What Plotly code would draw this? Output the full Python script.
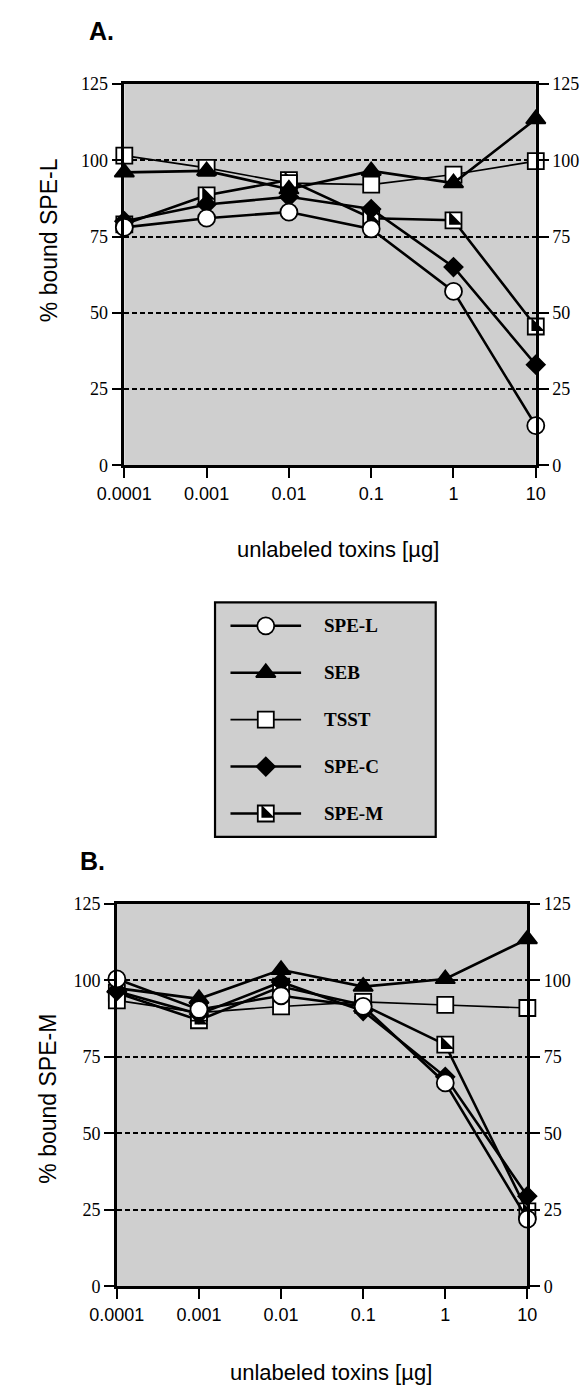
import plotly.graph_objects as go

# ---------------- data ----------------
doses = [0.0001, 0.001, 0.01, 0.1, 1, 10]
dose_labels = ["0.0001", "0.001", "0.01", "0.1", "1", "10"]
y_ticks = [0, 25, 50, 75, 100, 125]
series_names = ["SPE-L", "SEB", "TSST", "SPE-C", "SPE-M"]

# Panel A: % bound SPE-L
a_spe_l = [78, 81, 83, 77.5, 57, 13]
a_seb = [96, 96.5, 90.5, 96.5, 92.5, 113.5]
a_tsst = [101.5, 97.5, 92.5, 92, 95.3, 99.7]
a_spe_c = [80, 85.5, 88, 84, 65, 33]
a_spe_m = [79, 88.5, 93.5, 81, 80.3, 45.5]

# Panel B: % bound SPE-M
b_spe_l = [100.5, 90.5, 95, 91.5, 66.5, 22]
b_seb = [97.5, 94, 103.5, 98, 100.5, 113.5]
b_tsst = [93.5, 89.5, 91.5, 93, 92, 91]
b_spe_c = [96.5, 89, 99.5, 90, 68.5, 29.5]
b_spe_m = [96, 87, 98, 92, 79, 24.5]

# ---------------- layout constants ----------------
W, H = 586, 1392
SERIF = "Liberation Serif, Times New Roman, serif"
SANS = "Liberation Sans, Arial, sans-serif"
BG = "#cfcfcf"

def px_x(p):
    return p / W

def px_y(p):
    return 1 - p / H

styles = {
    "SPE-L": dict(symbol="circle", size=17, color="white", lw=2.6),
    "SEB": dict(symbol="triangle-up", size=17, color="black", lw=2.6),
    "TSST": dict(symbol="square", size=16, color="white", lw=1.6),
    "SPE-C": dict(symbol="diamond", size=14, color="black", lw=2.6),
    "SPE-M": dict(symbol="square", size=16, color="white", lw=2.6),
}

fig = go.Figure()


def add_series(name, xs, ys, xa, ya):
    st = styles[name]
    fig.add_trace(go.Scatter(
        x=xs, y=ys, xaxis=xa, yaxis=ya, mode="lines+markers", name=name,
        line=dict(color="black", width=st["lw"]),
        marker=dict(symbol=st["symbol"], size=st["size"], color=st["color"],
                    line=dict(color="black", width=1.8)),
        cliponaxis=False, showlegend=False, hoverinfo="skip"))
    if name == "SPE-M":
        fig.add_trace(go.Scatter(
            x=xs, y=ys, xaxis=xa, yaxis=ya, mode="markers", name=name,
            marker=dict(symbol="triangle-sw", size=st["size"] / 1.1, color="black",
                        line=dict(width=0)),
            cliponaxis=False, showlegend=False, hoverinfo="skip"))


panels = [
    dict(data={"SPE-L": a_spe_l, "SEB": a_seb, "TSST": a_tsst, "SPE-C": a_spe_c, "SPE-M": a_spe_m},
         xa="x", ya="y", ya2="y2"),
    dict(data={"SPE-L": b_spe_l, "SEB": b_seb, "TSST": b_tsst, "SPE-C": b_spe_c, "SPE-M": b_spe_m},
         xa="x2", ya="y3", ya2="y4"),
]
draw_order = ["SPE-M", "TSST", "SEB", "SPE-C"]
for p in panels:
    for n in draw_order:
        add_series(n, doses, p["data"][n], p["xa"], p["ya"])
    add_series("SPE-L", doses, p["data"]["SPE-L"], p["xa"], p["ya2"])

# ---------------- legend (own axes) ----------------
leg_x0, leg_x1, leg_y0, leg_y1 = 200, 436, 601, 839
line_x = [0.07, 0.39]
mark_x = 0.23
text_x = 0.485
for i, n in enumerate(series_names):
    st = styles[n]
    row = i + 0.5
    fig.add_trace(go.Scatter(x=line_x, y=[row, row], xaxis="x3", yaxis="y5", mode="lines",
                             line=dict(color="black", width=st["lw"]), showlegend=False,
                             hoverinfo="skip"))
    fig.add_trace(go.Scatter(x=[mark_x], y=[row], xaxis="x3", yaxis="y5", mode="markers",
                             marker=dict(symbol=st["symbol"], size=st["size"], color=st["color"],
                                         line=dict(color="black", width=1.8)),
                             showlegend=False, hoverinfo="skip", cliponaxis=False))
    if n == "SPE-M":
        fig.add_trace(go.Scatter(x=[mark_x], y=[row], xaxis="x3", yaxis="y5", mode="markers",
                                 marker=dict(symbol="triangle-sw", size=st["size"] / 1.1,
                                             color="black", line=dict(width=0)),
                                 showlegend=False, hoverinfo="skip", cliponaxis=False))

# ---------------- axes ----------------
def xaxis_cfg(x0, x1, anchor):
    return dict(domain=[px_x(x0), px_x(x1)], type="log", range=[-4, 1], anchor=anchor,
                tickmode="array", tickvals=doses, ticktext=dose_labels,
                ticks="outside", ticklen=10, tickwidth=2.2, tickcolor="black",
                showline=True, linewidth=2.5, linecolor="black", mirror=True,
                showgrid=False, zeroline=False,
                tickfont=dict(family=SANS, size=18, color="black"))


def yaxis_cfg(y0, y1, anchor, grid=True):
    return dict(domain=[px_y(y1), px_y(y0)], range=[0, 125], anchor=anchor,
                tickmode="array", tickvals=y_ticks,
                ticks="outside", ticklen=10, tickwidth=2.2, tickcolor="black",
                showline=True, linewidth=2.5, linecolor="black",
                showgrid=grid, gridcolor="black", gridwidth=2.4, griddash="5px,3px",
                zeroline=False,
                tickfont=dict(family=SERIF, size=18, color="black"))


A = dict(x0=103, x1=543, y0=75, y1=462)
B = dict(x0=95, x1=534, y0=907, y1=1295)

ya2 = yaxis_cfg(A["y0"], A["y1"], "x", grid=False)
ya2.update(overlaying="y", side="right")
yb2 = yaxis_cfg(B["y0"], B["y1"], "x2", grid=False)
yb2.update(overlaying="y3", side="right")

fig.update_layout(
    width=W, height=H, margin=dict(l=0, r=0, t=0, b=0),
    paper_bgcolor="white", plot_bgcolor=BG,
    xaxis=xaxis_cfg(A["x0"], A["x1"], "y"),
    yaxis=yaxis_cfg(A["y0"], A["y1"], "x"),
    yaxis2=ya2,
    xaxis2=xaxis_cfg(B["x0"], B["x1"], "y3"),
    yaxis3=yaxis_cfg(B["y0"], B["y1"], "x2"),
    yaxis4=yb2,
    xaxis3=dict(domain=[px_x(leg_x0), px_x(leg_x1)], range=[0, 1], visible=False,
                anchor="y5", fixedrange=True),
    yaxis5=dict(domain=[px_y(leg_y1), px_y(leg_y0)], range=[5, 0], visible=False,
                anchor="x3", fixedrange=True, showgrid=False),
    showlegend=False,
)

# legend box
fig.add_shape(type="rect", xref="paper", yref="paper",
              x0=px_x(leg_x0), x1=px_x(leg_x1), y0=px_y(leg_y1), y1=px_y(leg_y0),
              line=dict(color="black", width=2.2), fillcolor="rgba(0,0,0,0)", layer="below")

ann = []
for i, n in enumerate(series_names):
    ann.append(dict(x=text_x, y=i + 0.5, xref="x3", yref="y5", text=n, showarrow=False,
                    xanchor="left", yanchor="middle",
                    font=dict(family=SERIF, size=19, color="black", weight="bold")))

ann += [
    dict(x=px_x(63), y=px_y(21), xref="paper", yref="paper", text="A.", showarrow=False,
         xanchor="left", yanchor="middle",
         font=dict(family=SANS, size=25, color="black", weight="bold")),
    dict(x=px_x(54), y=px_y(863), xref="paper", yref="paper", text="B.", showarrow=False,
         xanchor="left", yanchor="middle",
         font=dict(family=SANS, size=25, color="black", weight="bold")),
    dict(x=px_x(22), y=px_y(234), xref="paper", yref="paper", text="% bound SPE-L",
         showarrow=False, textangle=-90, xanchor="center", yanchor="middle",
         font=dict(family=SANS, size=23, color="black")),
    dict(x=px_x(22), y=px_y(1105), xref="paper", yref="paper", text="% bound SPE-M",
         showarrow=False, textangle=-90, xanchor="center", yanchor="middle",
         font=dict(family=SANS, size=23, color="black")),
    dict(x=px_x(332), y=px_y(547), xref="paper", yref="paper", text="unlabeled toxins [µg]",
         showarrow=False, xanchor="center", yanchor="middle",
         font=dict(family=SANS, size=22, color="black")),
    dict(x=px_x(324), y=px_y(1382), xref="paper", yref="paper", text="unlabeled toxins [µg]",
         showarrow=False, xanchor="center", yanchor="middle",
         font=dict(family=SANS, size=22, color="black")),
]
fig.update_layout(annotations=ann)

fig.write_html("out.html")
